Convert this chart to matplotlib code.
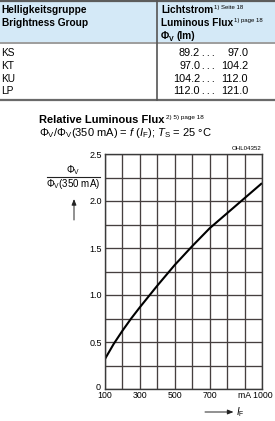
import matplotlib
matplotlib.use('Agg')
import matplotlib.pyplot as plt
import matplotlib.transforms as mtransforms
from matplotlib.lines import Line2D
from matplotlib.patches import Rectangle, FancyArrowPatch

# Tabelle: Helligkeitsgruppen
gruppen = ['KS', 'KT', 'KU', 'LP']
flux_min = ['89.2', '97.0', '104.2', '112.0']
flux_max = ['97.0', '104.2', '112.0', '121.0']

# Kurve: relativer Lichtstrom ueber Strom
strom = [100, 150, 200, 250, 300, 350, 400, 450, 500, 600, 700, 800, 900, 1000]
rel_flux = [0.32, 0.48, 0.62, 0.75, 0.87, 0.985, 1.10, 1.21, 1.32, 1.52, 1.71, 1.87, 2.03, 2.19]

x_ticks = [100, 300, 500, 700, 1000]
x_labels = ['100', '300', '500', '700', 'mA 1000']
x_grid = [100, 200, 300, 400, 500, 600, 700, 800, 900, 1000]
y_ticks = [0, 0.25, 0.5, 0.75, 1.0, 1.25, 1.5, 1.75, 2.0, 2.25, 2.5]
y_labels = ['0', '', '0.5', '', '1.0', '', '1.5', '', '2.0', '', '2.5']

plt.rcParams['font.family'] = ['Liberation Sans', 'DejaVu Sans']
plt.rcParams['mathtext.fontset'] = 'custom'
plt.rcParams['mathtext.rm'] = 'Liberation Sans'
plt.rcParams['mathtext.it'] = 'Liberation Sans:italic'
plt.rcParams['mathtext.bf'] = 'Liberation Sans:bold'

W, H = 275, 421
fig = plt.figure(figsize=(W / 100, H / 100), dpi=100)
renderer = fig.canvas.get_renderer()


def px(x, y):
    return x / W, 1 - y / H


def txt(x, y, s, **kw):
    kw.setdefault('va', 'baseline')
    return fig.text(*px(x, y), s, **kw)


def rechts(t, gap=1.0):
    # rechter Rand eines Textes in Pixeln
    return t.get_window_extent(renderer).x1 + gap


def hline(x0, x1, y, lw, color):
    fig.add_artist(Line2D([x0 / W, x1 / W], [1 - y / H, 1 - y / H], lw=lw, color=color))


def pfeil(a, b):
    fig.add_artist(FancyArrowPatch(px(*a), px(*b), transform=fig.transFigure,
                                   arrowstyle='-|>,head_length=3.5,head_width=1.4',
                                   shrinkA=0, shrinkB=0, lw=0.7, color='#222222',
                                   mutation_scale=1))


# --- Tabelle ---
fig.add_artist(Rectangle(px(0, 42), 1, 41 / H, color='#d4e9f7', lw=0))
hline(0, W, 0.8, 1.6, '#5c5c5c')
hline(0, W, 42.5, 1.2, '#8c8c8c')
hline(0, W, 100, 1.6, '#6a6a6a')
fig.add_artist(Line2D([156.5 / W] * 2, [1, 1 - 100 / H], lw=1.2, color='#555555'))

txt(1.5, 13.3, 'Helligkeitsgruppe', fontsize=7.3, fontweight='bold')
txt(1.5, 26.5, 'Brightness Group', fontsize=7.3, fontweight='bold')
t = txt(161, 13.0, 'Lichtstrom', fontsize=7.3, fontweight='bold')
txt(rechts(t), 8.8, '1) Seite 18', fontsize=4.3)
t = txt(161, 26.3, 'Luminous Flux', fontsize=7.3, fontweight='bold')
txt(rechts(t), 22.0, '1) page 18', fontsize=4.3)
t = txt(161, 38.8, 'Φ', fontsize=7.3, fontweight='bold')
t = txt(rechts(t, 0.2), 40.8, 'V', fontsize=5, fontweight='bold')
txt(rechts(t, 2.2), 38.8, '(lm)', fontsize=7.3, fontweight='bold')

for i, g in enumerate(gruppen):
    yb = 56.4 + i * 12.7
    txt(1.5, yb, g, fontsize=7.3)
    txt(200, yb, flux_min[i], fontsize=7.8, ha='right')
    txt(202.5, yb, '. . .', fontsize=6.5)
    txt(248, yb, flux_max[i], fontsize=7.8, ha='right')

# --- Titel Diagramm ---
t = txt(39.3, 123.3, 'Relative Luminous Flux', fontsize=8, fontweight='bold')
txt(rechts(t), 118.5, '2) 5) page 18', fontsize=4.6)
txt(39.3, 135.8, r'$\Phi_\mathrm{V}/\Phi_\mathrm{V}$(350 mA) = $f$ ($I_\mathrm{F}$); $T_\mathrm{S}$ = 25 °C',
    fontsize=8)
txt(261.5, 150.5, 'OHL04352', fontsize=4.4, ha='right')

# --- Diagramm ---
ax = fig.add_axes([105 / W, 32 / H, 157 / W, 235 / H])
ax.plot(strom, rel_flux, color='black', lw=1.5, solid_capstyle='butt')
ax.set_xlim(100, 1000)
ax.set_ylim(0, 2.5)
ax.set_xticks(x_grid, minor=True)
ax.set_xticks(x_ticks)
ax.set_xticklabels(x_labels, fontsize=6.3)
ax.set_yticks(y_ticks)
ax.set_yticklabels(y_labels, fontsize=6.5)
ax.tick_params(length=0, which='both')
ax.tick_params(axis='x', pad=1.6)
ax.tick_params(axis='y', pad=2.3)
ax.grid(True, which='both', color='#463f3f', lw=0.95)
for s in ax.spines.values():
    s.set_color('#3a3a3a')
    s.set_linewidth(1.0)

last = ax.get_xticklabels()[-1]
last.set_horizontalalignment('right')
last.set_transform(last.get_transform() + mtransforms.ScaledTranslation(0.11, 0, fig.dpi_scale_trans))
null = ax.get_yticklabels()[0]
null.set_transform(null.get_transform() + mtransforms.ScaledTranslation(-0.01, 0.025, fig.dpi_scale_trans))

# y-Achsenbeschriftung als Bruch
txt(73.5, 173, r'$\Phi_\mathrm{V}$', fontsize=7, ha='center')
hline(46.7, 100, 177.3, 0.8, '#222222')
txt(73.5, 186.8, r'$\Phi_\mathrm{V}$(350 mA)', fontsize=7, ha='center')
pfeil((74, 220), (74, 199))

# x-Achsenbeschriftung
pfeil((205, 412), (233.5, 412))
txt(235.5, 415.5, r'$I_\mathrm{F}$', fontsize=7)

fig.savefig('out.png', dpi=100)
